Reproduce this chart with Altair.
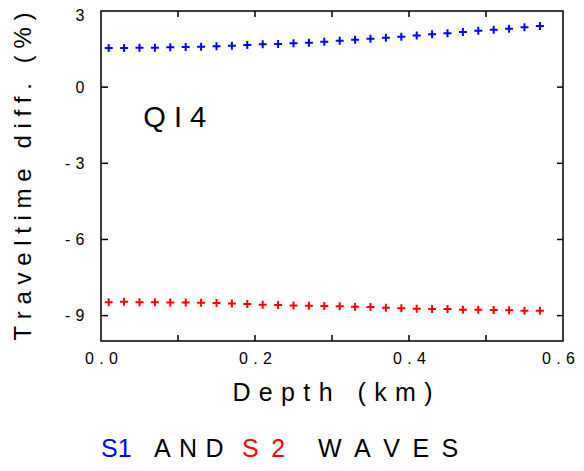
import altair as alt
import pandas as pd

# Depth (km) of each sample
depth = [0.01, 0.03, 0.05, 0.07, 0.09, 0.11, 0.13, 0.15, 0.17, 0.19,
         0.21, 0.23, 0.25, 0.27, 0.29, 0.31, 0.33, 0.35, 0.37, 0.39,
         0.41, 0.43, 0.45, 0.47, 0.49, 0.51, 0.53, 0.55, 0.57]
# Traveltime differences (%)
s1 = [1.54, 1.54, 1.55, 1.55, 1.57, 1.58, 1.59, 1.61, 1.63, 1.66,
      1.69, 1.70, 1.73, 1.75, 1.79, 1.83, 1.87, 1.91, 1.95, 1.99,
      2.03, 2.08, 2.12, 2.17, 2.22, 2.26, 2.30, 2.36, 2.41]
s2 = [-8.47, -8.45, -8.47, -8.47, -8.48, -8.48, -8.49, -8.50, -8.52, -8.54,
      -8.57, -8.58, -8.60, -8.61, -8.62, -8.63, -8.65, -8.66, -8.69, -8.71,
      -8.73, -8.74, -8.74, -8.77, -8.77, -8.78, -8.79, -8.81, -8.81]
waves = ["S1", "S2"]
wave_colors = ["#0000ff", "#ff0000"]

x_label_values = [0.0, 0.2, 0.4, 0.6]
x_tick_values = [0.1, 0.2, 0.3, 0.4, 0.5]
y_label_values = [3, 0, -3, -6, -9]
y_tick_values = [0, -3, -6, -9]


def spaced(text, gap, word_gap):
    """Letter-spaced text built from non-collapsing space characters."""
    words = text.split(" ")
    return word_gap.join(gap.join(list(w)) for w in words)


NB = "\u00a0"       # no-break space
TPM = "\u2004"      # three-per-em space
EN = "\u2002"       # en space

x_title = spaced("Depth (km)", TPM, TPM * 3)
y_title = spaced("Traveltime diff. (%)", NB, NB * 3)
panel_label = "Q I 4"
caption_parts = ["S1", spaced("AND", TPM, TPM), spaced("S2", EN, EN), spaced("WAVES", EN, EN)]
caption_colors = ["#0000ff", "#000000", "#ff0000", "#000000"]
caption_x = [0, 53, 141, 217]

FONT = "Liberation Sans"
W, H = 462, 330

df = pd.DataFrame({
    "depth": depth * 2,
    "diff": s1 + s2,
    "wave": [waves[0]] * len(s1) + [waves[1]] * len(s2),
})

xscale = alt.Scale(domain=[0, 0.6], nice=False, zero=False)
yscale = alt.Scale(domain=[-10, 3], nice=False, zero=False)

xaxis = alt.Axis(
    values=x_label_values,
    labelExpr="replace(format(datum.value, '.1f'), '.', '\u2004.\u2004')",
    ticks=False, domain=False, grid=False, labelFlush=False,
    labelOffset={"condition": {"test": "datum.value > 0.55", "value": -5}, "value": 0},
    labelPadding=9, labelFontSize=16, labelFont=FONT, labelColor="black",
    title=x_title, titleFont=FONT, titleFontSize=25, titleFontWeight="normal",
    titleColor="black", titlePadding=14,
)
yaxis = alt.Axis(
    values=y_label_values,
    labelExpr="datum.value < 0 ? '-\u2004' + toString(-datum.value) : toString(datum.value)",
    ticks=False, domain=False, grid=False, labelFlush=False,
    labelOffset={"condition": {"test": "datum.value == 3", "value": 4}, "value": 0},
    labelPadding=17, labelFontSize=16, labelFont=FONT, labelColor="black",
    title=y_title, titleFont=FONT, titleFontSize=24, titleFontWeight="normal",
    titleColor="black", titlePadding=29,
)

points = alt.Chart(df).mark_point(
    shape="M-1,0H1M0,-1V1", filled=False, strokeWidth=2, size=64, opacity=1
).encode(
    x=alt.X("depth:Q", scale=xscale, axis=xaxis),
    y=alt.Y("diff:Q", scale=yscale, axis=yaxis),
    color=alt.Color("wave:N", scale=alt.Scale(domain=waves, range=wave_colors), legend=None),
)

xt = pd.DataFrame({"depth": x_tick_values})
yt = pd.DataFrame({"diff": y_tick_values})
tick_style = dict(color="black", strokeWidth=1.5)
bottom_ticks = alt.Chart(xt).mark_rule(**tick_style).encode(
    x=alt.X("depth:Q", scale=xscale), y=alt.value(H), y2=alt.value(H - 6))
top_ticks = alt.Chart(xt).mark_rule(**tick_style).encode(
    x=alt.X("depth:Q", scale=xscale), y=alt.value(0), y2=alt.value(6))
left_ticks = alt.Chart(yt).mark_rule(**tick_style).encode(
    y=alt.Y("diff:Q", scale=yscale), x=alt.value(0), x2=alt.value(7))
right_ticks = alt.Chart(yt).mark_rule(**tick_style).encode(
    y=alt.Y("diff:Q", scale=yscale), x=alt.value(W), x2=alt.value(W - 6))

label = alt.Chart(pd.DataFrame({"depth": [0.055], "diff": [-1.57], "t": [panel_label]})).mark_text(
    align="left", baseline="alphabetic", fontSize=29, font=FONT, color="black"
).encode(x=alt.X("depth:Q", scale=xscale), y=alt.Y("diff:Q", scale=yscale), text="t:N")

captions = []
for part, col, cx in zip(caption_parts, caption_colors, caption_x):
    captions.append(
        alt.Chart(pd.DataFrame({"t": [part]})).mark_text(
            align="left", baseline="alphabetic", fontSize=25, font=FONT, color=col
        ).encode(x=alt.value(cx), y=alt.value(446), text="t:N")
    )

chart = alt.layer(points, bottom_ticks, top_ticks, left_ticks, right_ticks, label, *captions).properties(
    width=W, height=H,
    autosize=alt.AutoSizeParams(type="none"),
    padding={"left": 93, "top": 3, "right": 13, "bottom": 122},
).configure_view(stroke="black", strokeWidth=1.5)

chart.save("out.html", embed_options={"renderer": "svg", "actions": False})
